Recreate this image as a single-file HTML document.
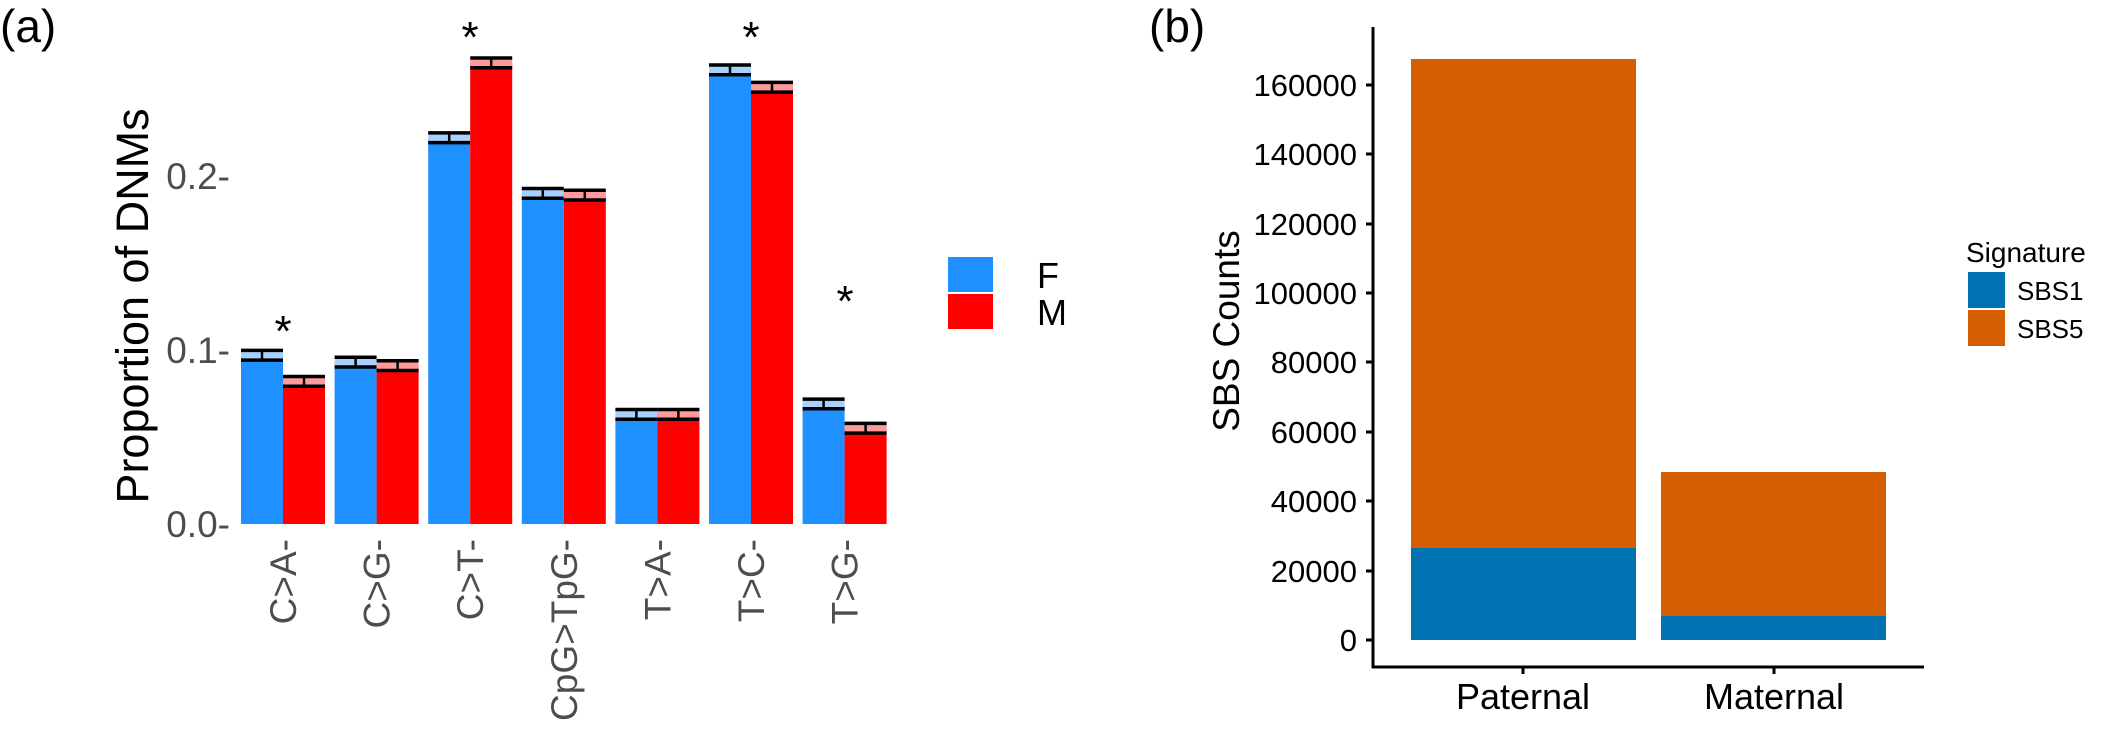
<!DOCTYPE html>
<html><head><meta charset="utf-8"><style>
html,body{margin:0;padding:0;background:#fff;}
svg{display:block;}
text{font-family:"Liberation Sans",sans-serif;}
</style></head><body>
<svg width="2125" height="736" viewBox="0 0 2125 736" xmlns="http://www.w3.org/2000/svg">
<rect width="2125" height="736" fill="#fff"/>
<!-- Panel a -->
<text x="0" y="42" font-size="46">(a)</text>
<text transform="translate(148,306) rotate(-90)" text-anchor="middle" font-size="45">Proportion of DNMs</text>
<g font-size="37" fill="#4d4d4d" text-anchor="end">
<text x="230" y="537">0.0-</text>
<text x="230" y="363">0.1-</text>
<text x="230" y="189">0.2-</text>
</g>
<g id="bars">
</g>
<g font-size="37" fill="#4d4d4d" text-anchor="end">
<text transform="translate(296,539) rotate(-90)">C&gt;A-</text>
<text transform="translate(389.6,539) rotate(-90)">C&gt;G-</text>
<text transform="translate(483.2,539) rotate(-90)">C&gt;T-</text>
<text transform="translate(576.8,539) rotate(-90)">CpG&gt;TpG-</text>
<text transform="translate(670.4,539) rotate(-90)">T&gt;A-</text>
<text transform="translate(764,539) rotate(-90)">T&gt;C-</text>
<text transform="translate(857.6,539) rotate(-90)">T&gt;G-</text>
</g>
<g font-size="44" text-anchor="middle">
<text x="283" y="346">*</text>
<text x="470" y="52">*</text>
<text x="751" y="52">*</text>
<text x="845" y="316">*</text>
</g>
<rect x="948" y="257" width="45" height="35" fill="#1e90ff"/>
<rect x="948" y="294" width="45" height="35" fill="#ff0000"/>
<text x="1037" y="288" font-size="36">F</text>
<text x="1037" y="325" font-size="36">M</text>

<!-- Panel b -->
<text x="1149" y="42" font-size="46">(b)</text>
<text transform="translate(1239,331) rotate(-90)" text-anchor="middle" font-size="37">SBS Counts</text>
<line x1="1373" y1="27" x2="1373" y2="668" stroke="#000" stroke-width="3"/>
<line x1="1372" y1="667" x2="1924" y2="667" stroke="#000" stroke-width="3"/>
<g font-size="31" text-anchor="end">
<text x="1357" y="651">0</text>
<text x="1357" y="582">20000</text>
<text x="1357" y="512">40000</text>
<text x="1357" y="443">60000</text>
<text x="1357" y="373">80000</text>
<text x="1357" y="304">100000</text>
<text x="1357" y="235">120000</text>
<text x="1357" y="165">140000</text>
<text x="1357" y="096">160000</text>
</g>
<g stroke="#000" stroke-width="3">
<line x1="1366" y1="640" x2="1373" y2="640"/>
<line x1="1366" y1="571" x2="1373" y2="571"/>
<line x1="1366" y1="501" x2="1373" y2="501"/>
<line x1="1366" y1="432" x2="1373" y2="432"/>
<line x1="1366" y1="362" x2="1373" y2="362"/>
<line x1="1366" y1="293" x2="1373" y2="293"/>
<line x1="1366" y1="224" x2="1373" y2="224"/>
<line x1="1366" y1="154" x2="1373" y2="154"/>
<line x1="1366" y1="85" x2="1373" y2="85"/>
<line x1="1523" y1="667" x2="1523" y2="674"/>
<line x1="1774" y1="667" x2="1774" y2="674"/>
</g>
<rect x="1411" y="59" width="225" height="581" fill="#d55e00"/>
<rect x="1411" y="548" width="225" height="92" fill="#0072b2"/>
<rect x="1661" y="472" width="225" height="168" fill="#d55e00"/>
<rect x="1661" y="616" width="225" height="24" fill="#0072b2"/>
<text x="1523" y="709" font-size="36" text-anchor="middle">Paternal</text>
<text x="1774" y="709" font-size="36" text-anchor="middle">Maternal</text>
<text x="1966" y="262" font-size="28">Signature</text>
<rect x="1968" y="272" width="37" height="36" fill="#0072b2"/>
<rect x="1968" y="310" width="37" height="36" fill="#d55e00"/>
<text x="2017" y="300" font-size="26">SBS1</text>
<text x="2017" y="338" font-size="26">SBS5</text>
</svg>
<script>
(function(){
var F=[0.097,0.093,0.222,0.190,0.063,0.261,0.069];
var M=[0.082,0.091,0.265,0.189,0.063,0.251,0.055];
var g=document.getElementById('bars');var ns="http://www.w3.org/2000/svg";
function y(v){return 524-v*1740;}
function add(tag,a){var e=document.createElementNS(ns,tag);for(var k in a)e.setAttribute(k,a[k]);g.appendChild(e);}
for(var i=0;i<7;i++){
 var x0=241+93.6*i;
 [[F[i],'#1e90ff','#a8d0ff',x0],[M[i],'#ff0000','#ff9a9a',x0+42]].forEach(function(b){
  var v=b[0],x=b[3];
  add('rect',{x:x,y:y(v),width:42,height:524-y(v),fill:b[1]});
  var e=0.0028;
  add('rect',{x:x,y:y(v+e),width:42,height:y(v-e)-y(v+e),fill:b[2]});
  add('line',{x1:x,x2:x+42,y1:y(v+e),y2:y(v+e),stroke:'#000','stroke-width':3.5});
  add('line',{x1:x,x2:x+42,y1:y(v-e),y2:y(v-e),stroke:'#000','stroke-width':3.5});
  add('line',{x1:x+21,x2:x+21,y1:y(v+e),y2:y(v-e),stroke:'#000','stroke-width':2.5});
 });
}
})();
</script>
</body></html>
